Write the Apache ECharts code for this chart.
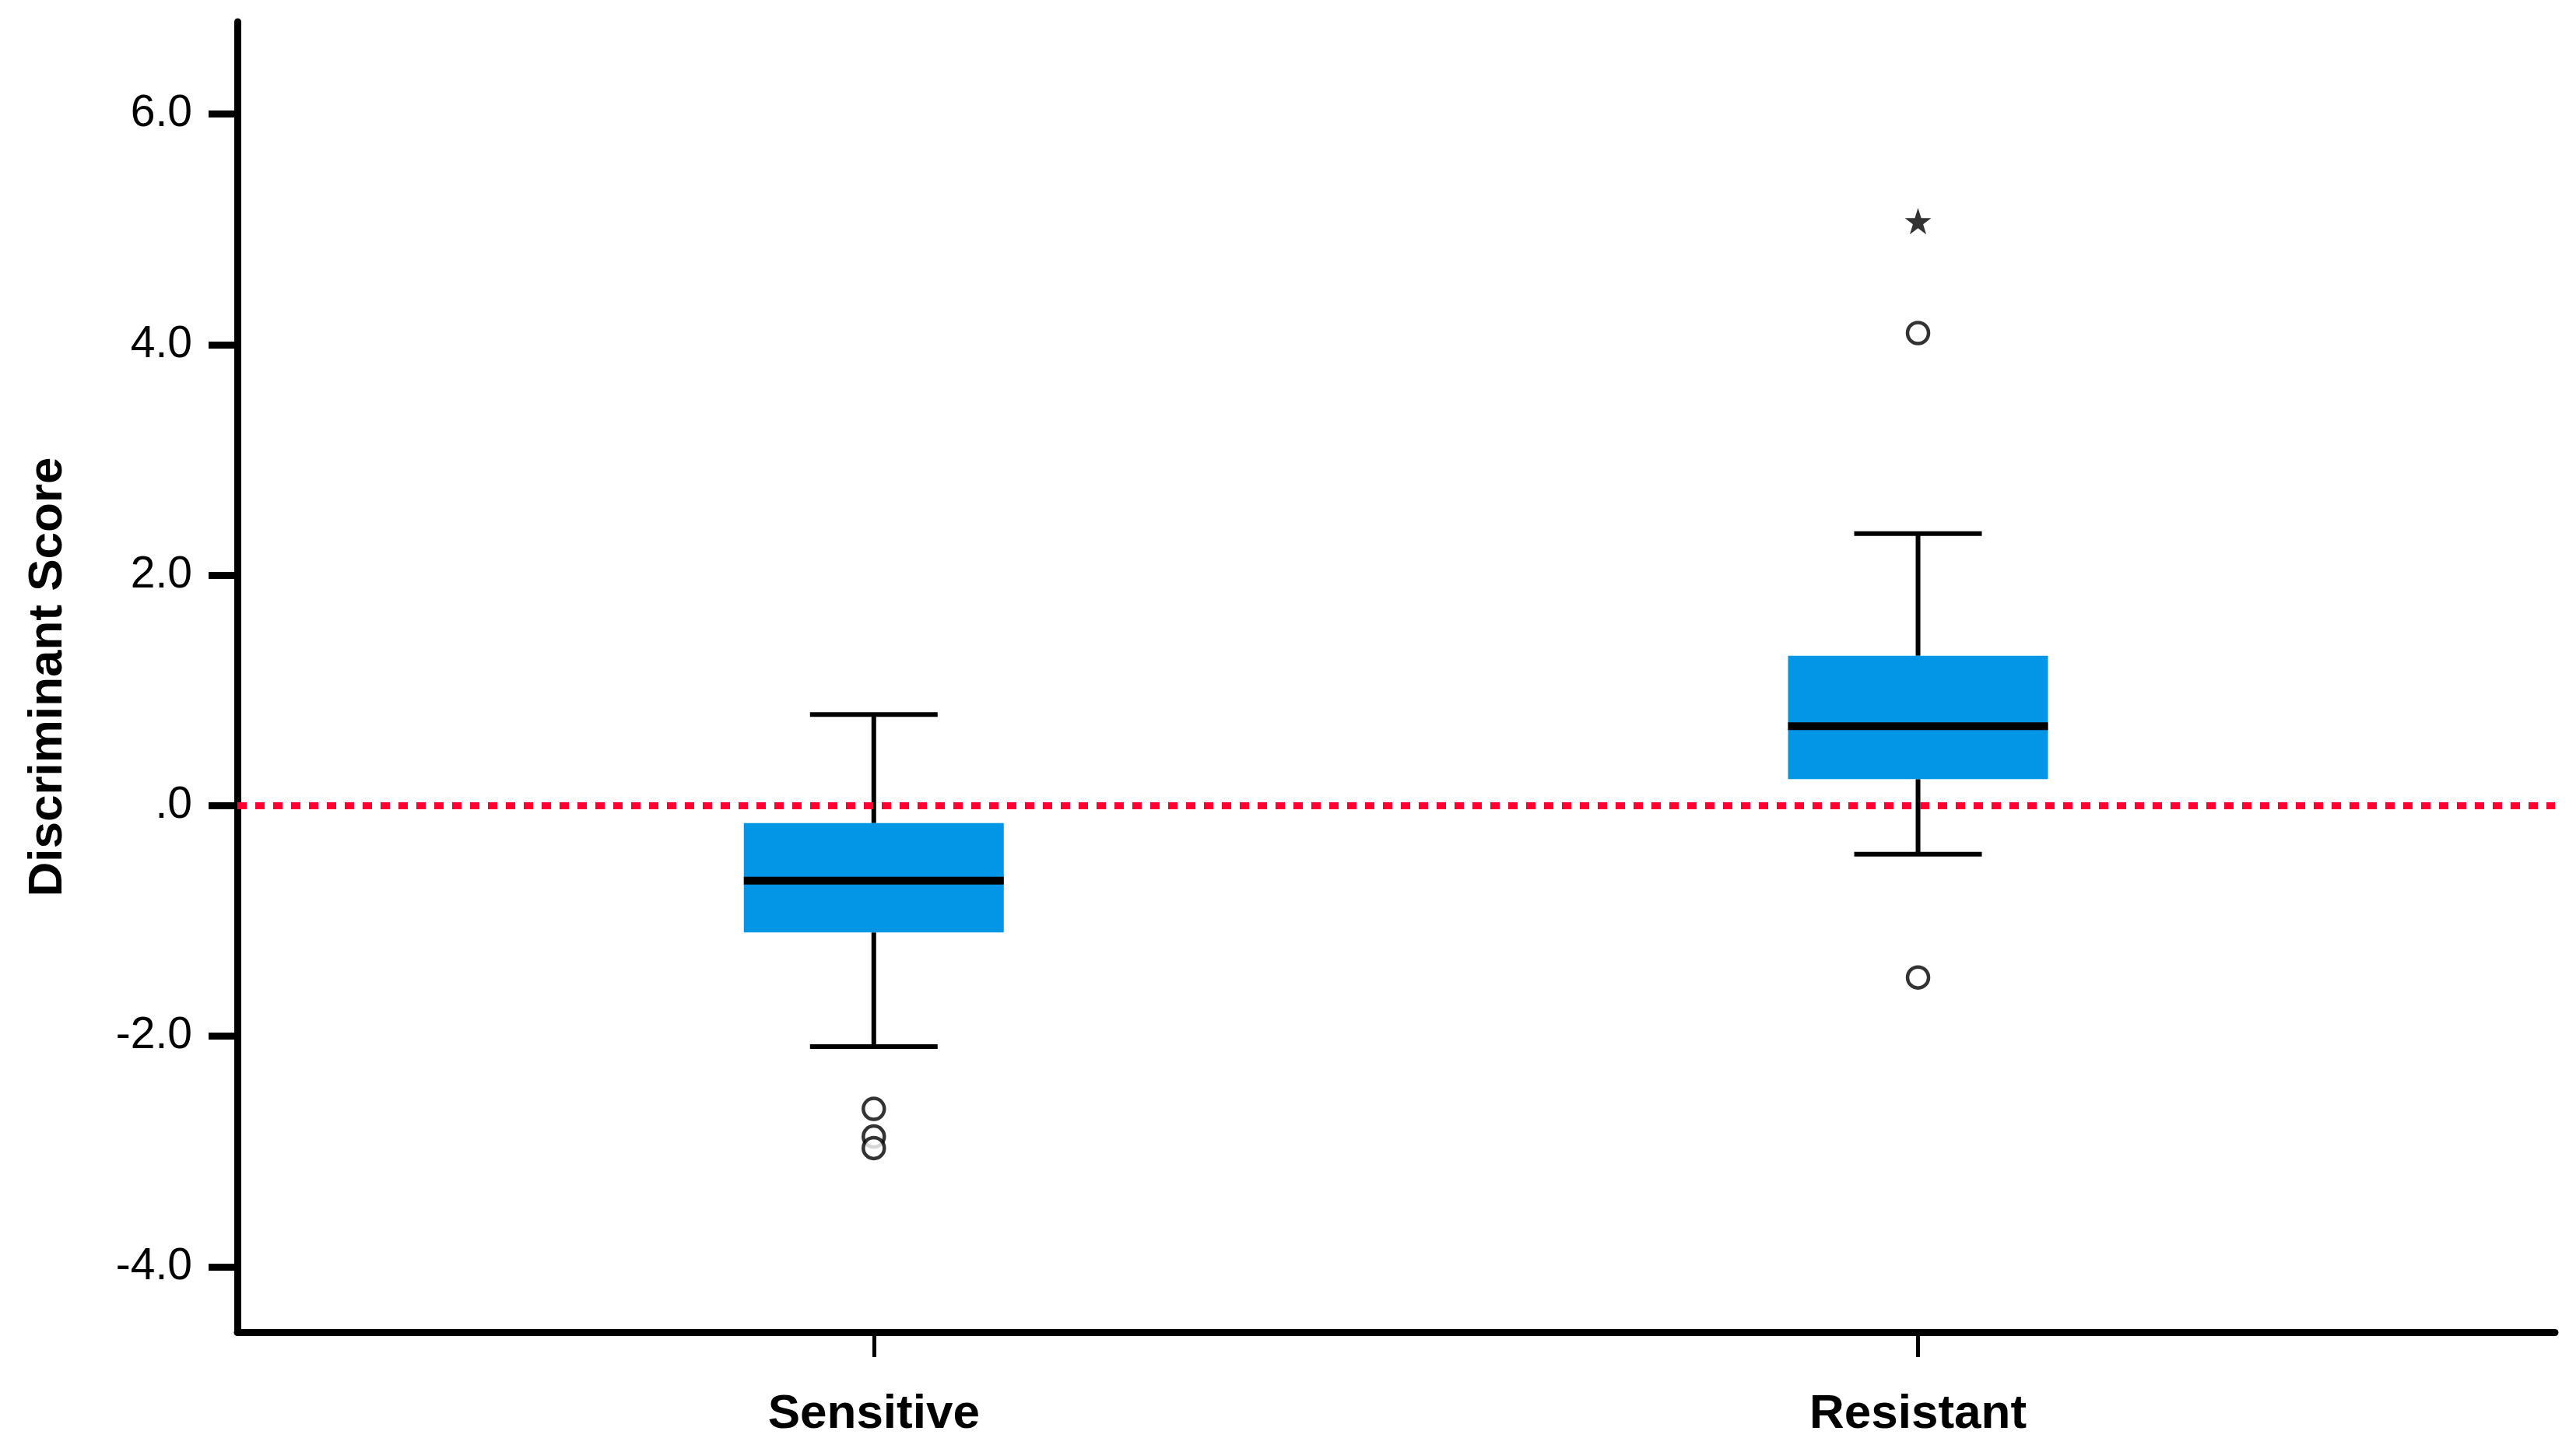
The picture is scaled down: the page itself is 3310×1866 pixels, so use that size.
<!DOCTYPE html>
<html>
<head>
<meta charset="utf-8">
<script src="https://cdn.jsdelivr.net/npm/echarts@6/dist/echarts.min.js"></script>
<style>
html,body{margin:0;padding:0;background:#fff;}
#chart{width:3310px;height:1866px;}
</style>
</head>
<body>
<div id="chart"></div>
<script>
// ---- data ----
const categories = ['Sensitive', 'Resistant'];
const categoryPositions = [1, 2];
const whiskerLow  = [-2.09, -0.42];
const quartile1   = [-1.10,  0.23];
const medians     = [-0.65,  0.69];
const quartile3   = [-0.15,  1.30];
const whiskerHigh = [ 0.79,  2.36];
const outliersSensitive = [-2.63, -2.87, -2.97];
const outliersResistant = [4.10, -1.49];
const extremesResistant = [5.07];
const yTickValues = [-4, -2, 0, 2, 4, 6];
const referenceValue = 0;
const yAxisTitle = 'Discriminant Score';

// ---- build series data ----
const boxData = categories.map((c, i) => [categoryPositions[i], whiskerLow[i], quartile1[i], medians[i], quartile3[i], whiskerHigh[i]]);
const outlierData = outliersSensitive.map(v => [categoryPositions[0], v])
  .concat(outliersResistant.map(v => [categoryPositions[1], v]));
const extremeData = extremesResistant.map(v => [categoryPositions[1], v]);

const BLUE = '#0396E6';
const STAR = 'path://M50,0 L61.8,35.1 L98.9,35.1 L69,57 L80.3,92.3 L50,70.5 L19.7,92.3 L31,57 L1.1,35.1 L38.2,35.1 Z';

const chart = echarts.init(document.getElementById('chart'), null, {renderer: 'canvas'});
chart.setOption({
  animation: false,
  backgroundColor: '#ffffff',
  grid: {left: 305, right: 27, top: 28, bottom: 154, containLabel: false},
  xAxis: {
    type: 'value',
    min: 0.3905,
    max: 2.61,
    splitLine: {show: false},
    axisLine: {show: true, onZero: false, lineStyle: {color: '#000', width: 9}},
    axisTick: {show: true, customValues: categoryPositions, length: 32, lineStyle: {color: '#000', width: 5}},
    axisLabel: {
      show: true,
      customValues: categoryPositions,
      margin: 75,
      color: '#000',
      fontFamily: 'Liberation Sans, Arial, sans-serif',
      fontWeight: 'bold',
      fontSize: 62,
      formatter: function (v) { const i = categoryPositions.indexOf(v); return i >= 0 ? categories[i] : ''; }
    }
  },
  yAxis: {
    type: 'value',
    min: -4.567,
    max: 6.80,
    name: yAxisTitle,
    nameLocation: 'middle',
    nameGap: 212,
    nameTextStyle: {color: '#000', fontFamily: 'Liberation Sans, Arial, sans-serif', fontWeight: 'bold', fontSize: 62},
    splitLine: {show: false},
    axisLine: {show: true, onZero: false, lineStyle: {color: '#000', width: 9}},
    axisTick: {show: true, customValues: yTickValues, length: 37, lineStyle: {color: '#000', width: 9}},
    axisLabel: {
      show: true,
      customValues: yTickValues,
      margin: 58,
      color: '#000',
      fontFamily: 'Liberation Sans Narrow, Arial Narrow, Liberation Sans, sans-serif',
      fontSize: 57,
      formatter: function (v) { return v === 0 ? '.0' : v.toFixed(1); }
    }
  },
  series: [
    {
      type: 'custom',
      name: 'box',
      z: 2,
      silent: true,
      data: boxData,
      encode: {x: 0, y: [1, 2, 3, 4, 5]},
      renderItem: function (params, api) {
        const x = api.value(0);
        const lo = api.coord([x, api.value(1)]);
        const q1 = api.coord([x, api.value(2)]);
        const md = api.coord([x, api.value(3)]);
        const q3 = api.coord([x, api.value(4)]);
        const hi = api.coord([x, api.value(5)]);
        const cx = lo[0];
        const halfBox = 167, halfCap = 82;
        const wStyle = {stroke: '#000', lineWidth: 6};
        return {
          type: 'group',
          children: [
            {type: 'line', shape: {x1: cx, y1: hi[1], x2: cx, y2: q3[1]}, style: wStyle},
            {type: 'line', shape: {x1: cx, y1: q1[1], x2: cx, y2: lo[1]}, style: wStyle},
            {type: 'line', shape: {x1: cx - halfCap, y1: hi[1], x2: cx + halfCap, y2: hi[1]}, style: wStyle},
            {type: 'line', shape: {x1: cx - halfCap, y1: lo[1], x2: cx + halfCap, y2: lo[1]}, style: wStyle},
            {type: 'rect', shape: {x: cx - halfBox, y: q3[1], width: 2 * halfBox, height: q1[1] - q3[1]}, style: {fill: BLUE}},
            {type: 'line', shape: {x1: cx - halfBox, y1: md[1], x2: cx + halfBox, y2: md[1]}, style: {stroke: '#000', lineWidth: 10}}
          ]
        };
      }
    },
    {
      type: 'scatter',
      name: 'outliers',
      z: 4,
      silent: true,
      symbol: 'circle',
      symbolSize: 27,
      itemStyle: {color: '#fff', borderColor: '#000', borderWidth: 4.5},
      data: outlierData,
      markLine: {
        silent: true,
        symbol: ['none', 'none'],
        label: {show: false},
        lineStyle: {color: '#FF0033', width: 9, type: [12, 11]},
        data: [{yAxis: referenceValue}]
      }
    },
    {
      type: 'scatter',
      name: 'extremes',
      z: 4,
      silent: true,
      symbol: STAR,
      symbolSize: 34,
      itemStyle: {color: '#000'},
      data: extremeData
    }
  ]
});
</script>
</body>
</html>
